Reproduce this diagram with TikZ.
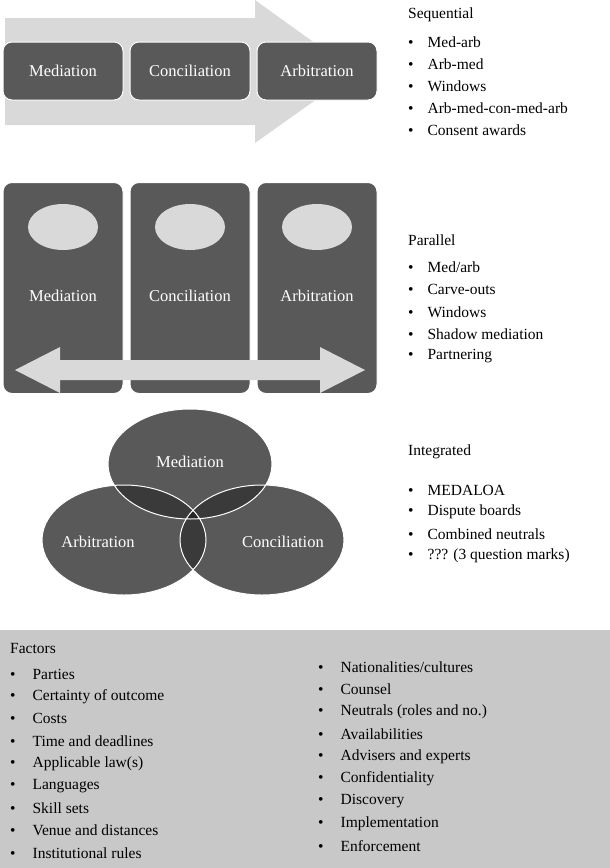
\documentclass[tikz,border=0pt]{standalone}
\usepackage{fontspec}
\setmainfont{Liberation Serif}
\usetikzlibrary{positioning}
\definecolor{boxgray}{HTML}{595959}
\definecolor{lapgray}{HTML}{3A3A3A}
\definecolor{coregray}{HTML}{262626}
\definecolor{lightgray}{HTML}{D9D9D9}
\definecolor{factorgray}{HTML}{C8C8C8}
\tikzset{
  modebox/.style={draw=white, line width=1pt, fill=boxgray, rounded corners=9pt, text=white, font=\fontsize{16.5}{18}\selectfont},
  whitetext/.style={text=white, font=\fontsize{16.5}{18}\selectfont},
  listtext/.style={anchor=west, inner sep=0pt, font=\fontsize{15.5}{18}\selectfont}
}
\def\ellM{(190,464) ellipse (82pt and 55pt)}
\def\ellA{(124,540) ellipse (82pt and 55pt)}
\def\ellC{(262,540) ellipse (82pt and 55pt)}
\begin{document}
\begin{tikzpicture}[x=1pt,y=-1pt]
	\useasboundingbox (0,0) rectangle (610,868);
	% sequential
	\fill[lightgray] (5,18) -- (255,18) -- (255,0) -- (355,72) -- (255,143) -- (255,125) -- (5,125) -- cycle;
	\node[modebox, minimum width=120pt, minimum height=58pt] (s1) at (63,71) {Mediation};
	\node[modebox, minimum width=120pt, minimum height=58pt] (s2) at (190,71) {Conciliation};
	\node[modebox, minimum width=120pt, minimum height=58pt] (s3) at (317,71) {Arbitration};
	\node[listtext] (seq) at (408,15) {Sequential};
	\foreach \t [count=\i] in {Med-arb, Arb-med, Windows, Arb-med-con-med-arb, Consent awards}
		\node[listtext] (seq\i) at (408,20+22*\i) {\textbullet\hspace{14pt}\t};

	% parallel
	\node[modebox, minimum width=120pt, minimum height=211pt] (p1) at (63,288) {};
	\node[modebox, minimum width=120pt, minimum height=211pt] (p2) at (190,288) {};
	\node[modebox, minimum width=120pt, minimum height=211pt] (p3) at (317,288) {};
	\foreach \n in {p1,p2,p3}
		\fill[lightgray] ([yshift=61pt]\n.center) ellipse (35pt and 23pt);
	\node[whitetext] (pt1) at (63,296) {Mediation};
	\node[whitetext] (pt2) at (190,296) {Conciliation};
	\node[whitetext] (pt3) at (317,296) {Arbitration};
	\fill[lightgray] (15,370) -- (60,347) -- (60,360) -- (320,360) -- (320,347) -- (365,370) -- (320,393) -- (320,380) -- (60,380) -- (60,393) -- cycle;
	\node[listtext] (par) at (408,240) {Parallel};
	\foreach \t [count=\i] in {Med/arb, Carve-outs, Windows, Shadow mediation, Partnering}
		\node[listtext] (par\i) at (408,245+22.3*\i) {\textbullet\hspace{14pt}\t};

	% integrated
	\fill[boxgray] \ellM \ellA \ellC;
	\begin{scope}
		\clip \ellM;
		\fill[lapgray] \ellA \ellC;
	\end{scope}
	\begin{scope}
		\clip \ellA;
		\fill[lapgray] \ellC;
		\clip \ellC;
		\fill[coregray] \ellM;
	\end{scope}
	\draw[white, line width=1pt] \ellM \ellA \ellC;
	\node[whitetext] (v1) at (190,462) {Mediation};
	\node[whitetext] (v2) at (98,542) {Arbitration};
	\node[whitetext] (v3) at (283,542) {Conciliation};
	\node[listtext] (int) at (408,452) {Integrated};
	\foreach \t [count=\i] in {MEDALOA, Dispute boards, Combined neutrals, ??? (3 question marks)}
		\node[listtext] (int\i) at (408,468+22*\i) {\textbullet\hspace{14pt}\t};

	% factors
	\fill[factorgray] (0,630) rectangle (610,868);
	\node[listtext] (fac) at (10,648) {Factors};
	\foreach \t [count=\i] in {Parties, Certainty of outcome, Costs, Time and deadlines, Applicable law(s), Languages, Skill sets, Venue and distances, Institutional rules}
		\node[listtext] (facl\i) at (10,652+22.3*\i) {\textbullet\hspace{17pt}\t};
	\foreach \t [count=\i] in {Nationalities/cultures, Counsel, Neutrals (roles and no.), Availabilities, Advisers and experts, Confidentiality, Discovery, Implementation, Enforcement}
		\node[listtext] (facr\i) at (318,645+22.3*\i) {\textbullet\hspace{17pt}\t};
\end{tikzpicture}
\end{document}
